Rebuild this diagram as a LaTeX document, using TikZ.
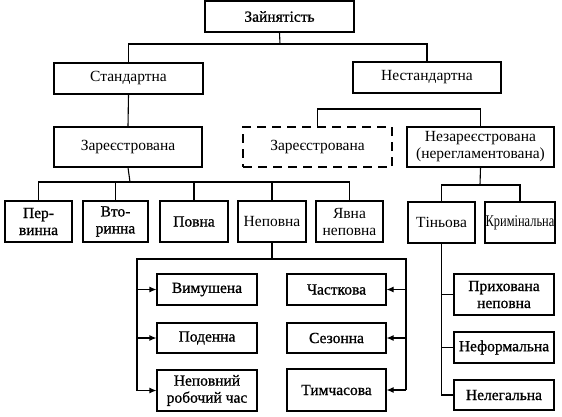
\documentclass[tikz,border=0pt]{standalone}
\usepackage{fontspec}
\usepackage{graphicx}
\setmainfont{Liberation Serif}
\newfontfamily\semib[FakeBold=0.9]{Liberation Serif}
\usetikzlibrary{arrows.meta}
\tikzset{
  box/.style={draw, line width=1.1pt, inner sep=0pt, align=center, font=\fontsize{15.5}{17}\selectfont},
  bbox/.style={box, font=\fontsize{15.5}{17}\selectfont\semib},
  dbox/.style={box, dash pattern=on 9pt off 6pt},
  conn/.style={line width=1.1pt},
  arr/.style={conn, -{Latex[length=7pt,width=6pt]}}
}
\newcommand{\bx}[7][box]{\node[#1, minimum width=#5pt-#3pt, minimum height=#6pt-#4pt] (#2) at ({(#3+#5)/2},{(#4+#6)/2}) {#7};}
\begin{document}
\begin{tikzpicture}[x=1pt,y=-1pt]
\useasboundingbox (0,0) rectangle (562,416);
\bx[bbox]{top}{205}{1}{354}{32}{Зайнятість}
\bx{std}{54}{63}{203}{94}{Стандартна}
\bx{nstd}{353}{62}{501}{93}{Нестандартна}
\bx{reg}{54}{127}{202}{167}{Зареєстрована}
\bx[dbox]{dreg}{243}{127}{392}{167}{Зареєстрована}
\bx{unreg}{407}{127}{554}{167}{Незареєстрована\\(нерегламентована)}
\bx[bbox]{perv}{5}{201}{72}{242}{Пер-\\винна}
\bx[bbox]{vtor}{83}{201}{148}{242}{Вто-\\ринна}
\bx[bbox]{povna}{160}{201}{228}{242}{Повна}
\bx{nep}{238}{201}{306}{242}{Неповна}
\bx{yavna}{316}{201}{383}{242}{Явна\\неповна}
\bx{tin}{408}{202}{475}{243}{Тіньова}
\bx{krym}{485}{202}{555}{243}{\scalebox{0.8}[1.05]{Кримінальна}}
\bx[bbox]{vym}{157}{274}{257}{305}{Вимушена}
\bx[bbox]{pod}{157}{323}{257}{353}{Поденна}
\bx[bbox]{nrch}{157}{370}{257}{411}{Неповний\\робочий час}
\bx[bbox]{chast}{287}{274}{386}{305}{Часткова}
\bx[bbox]{sez}{287}{323}{386}{353}{Сезонна}
\bx[bbox]{tym}{287}{369}{386}{411}{Тимчасова}
\bx[bbox]{prykh}{454}{274}{554}{315}{Прихована\\неповна}
\bx[bbox]{neform}{454}{332}{554}{363}{Неформальна}
\bx[bbox]{neleg}{454}{380}{554}{410}{Нелегальна}
% connectors
\coordinate (j1) at (280,44);
\draw[conn] (top.south) -- (j1);
\draw[conn] (std.north) |- (j1) -| (nstd.north);
\draw[conn] (std.south) -- (reg.north);
\coordinate (j2) at (318,109);
\draw[conn] (dreg.north) |- (j2) -| (unreg.north);
\coordinate (j3) at (130,182);
\draw[conn] (reg.south) -- (j3);
\draw[conn] (perv.north) |- (j3) -| (yavna.north);
\draw[conn] (vtor.north) -- (vtor.north |- j3);
\draw[conn] (povna.north) -- (povna.north |- j3);
\draw[conn] (nep.north) -- (nep.north |- j3);
\coordinate (j4) at (480,185);
\draw[conn] (unreg.south) -- (j4);
\draw[conn] (tin.north) |- (j4) -| (krym.north);
\coordinate (j5) at (272,259);
\coordinate (lv) at (137,259);
\coordinate (rv) at (406,259);
\draw[conn] (nep.south) -- (j5);
\draw[conn] (lv |- nrch.west) -- (lv) -- (rv) -- (rv |- tym.east);
\draw[arr] (lv |- vym.west) -- (vym.west);
\draw[arr] (lv |- pod.west) -- (pod.west);
\draw[arr] (lv |- nrch.west) -- (nrch.west);
\draw[arr] (rv |- chast.east) -- (chast.east);
\draw[arr] (rv |- sez.east) -- (sez.east);
\draw[arr] (rv |- tym.east) -- (tym.east);
\draw[conn] (tin.south) -- (tin.south |- neleg.west) -- (neleg.west);
\draw[conn] (tin.south |- prykh.west) -- (prykh.west);
\draw[conn] (tin.south |- neform.west) -- (neform.west);
\end{tikzpicture}
\end{document}
